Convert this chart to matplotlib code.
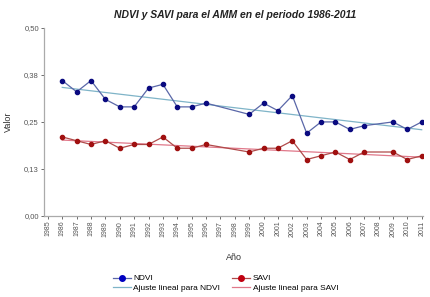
import numpy as np
import matplotlib
matplotlib.use("Agg")
import matplotlib.pyplot as plt
from matplotlib.lines import Line2D

plt.rcParams['font.family'] = ['Liberation Sans', 'DejaVu Sans']

years = [1986, 1987, 1988, 1989, 1990, 1991, 1992, 1993, 1994, 1995, 1996,
         1999, 2000, 2001, 2002, 2003, 2004, 2005, 2006, 2007, 2009, 2010, 2011]
ndvi = [0.36, 0.33, 0.36, 0.31, 0.29, 0.29, 0.34, 0.35, 0.29, 0.29, 0.30,
        0.27, 0.30, 0.28, 0.32, 0.22, 0.25, 0.25, 0.23, 0.24, 0.25, 0.23, 0.25]
savi = [0.21, 0.20, 0.19, 0.20, 0.18, 0.19, 0.19, 0.21, 0.18, 0.18, 0.19,
        0.17, 0.18, 0.18, 0.20, 0.15, 0.16, 0.17, 0.15, 0.17, 0.17, 0.15, 0.16]
yticks = [0.0, 0.125, 0.25, 0.375, 0.5]
xticks = list(range(1985, 2012))

x = np.array(years)
fit_n = np.polyfit(x, ndvi, 1)
fit_s = np.polyfit(x, savi, 1)

fig = plt.figure(figsize=(4.3, 2.97), dpi=100)
ax = fig.add_axes([0.102, 0.273, 0.882, 0.633])

ax.plot(x, np.polyval(fit_n, x), color='#7fb4c8', lw=0.9)
ax.plot(x, np.polyval(fit_s, x), color='#e0788a', lw=0.9)
ax.plot(x, ndvi, color='#5a67a8', lw=0.9, marker='o', ms=3,
        mfc='#0a0a80', mec='#0a0a80')
ax.plot(x, savi, color='#b04a4a', lw=0.9, marker='o', ms=3,
        mfc='#a01010', mec='#a01010')

ax.set_xlim(1984.72, 2011.1)
ax.set_ylim(0, 0.5)
ax.set_xticks(xticks)
ax.set_xticklabels([str(t) for t in xticks], rotation=90, fontsize=5)
ax.set_yticks(yticks)
ax.set_yticklabels([f"{v + 1e-9:.2f}".replace('.', ',') for v in yticks], fontsize=5.5)
ax.tick_params(colors='#555555', length=2, width=0.6, pad=1.5)
for s in ['top', 'right']:
    ax.spines[s].set_visible(False)
for s in ['left', 'bottom']:
    ax.spines[s].set_color('#aaaaaa')
    ax.spines[s].set_linewidth(0.9)

fig.text(0.547, 0.95, 'NDVI y SAVI para el AMM en el periodo 1986-2011', fontsize=7.5,
         fontweight='bold', fontstyle='italic', color='#222222', ha='center', va='center')
ax.set_ylabel('Valor', fontsize=6.5, color='#333333', labelpad=8)
ax.set_xlabel('Año', fontsize=6.5, color='#333333', labelpad=12)

handles = [
    Line2D([], [], color='#5a67a8', lw=0.9, marker='o', ms=4, mfc='#0000c0', mec='#0000c0'),
    Line2D([], [], color='#7fb4c8', lw=0.9),
    Line2D([], [], color='#b04a4a', lw=0.9, marker='o', ms=4, mfc='#c00010', mec='#c00010'),
    Line2D([], [], color='#e0788a', lw=0.9),
]
labels = ['NDVI', 'Ajuste lineal para NDVI', 'SAVI', 'Ajuste lineal para SAVI']
fig.legend(handles, labels, ncol=2, loc='lower left', bbox_to_anchor=(0.25, 0.0),
           frameon=False, fontsize=6, handlelength=2.2, handletextpad=0.3,
           columnspacing=1.4, labelspacing=0.2, borderaxespad=0.2)

fig.savefig('out.png', dpi=100)
